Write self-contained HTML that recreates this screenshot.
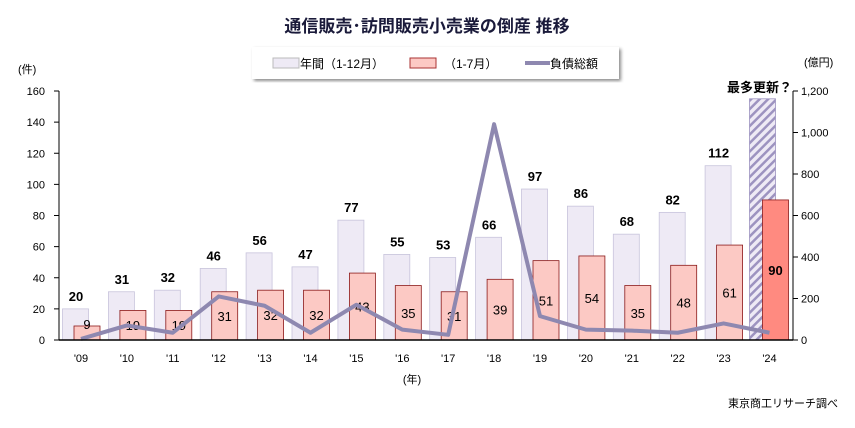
<!DOCTYPE html>
<html><head><meta charset="utf-8"><style>
body{margin:0;background:#fff;width:855px;height:423px;overflow:hidden}
text{font-family:"Liberation Sans","Noto Sans CJK JP",sans-serif}
</style></head><body>
<svg id="s" width="855" height="423" xmlns="http://www.w3.org/2000/svg">
<defs><pattern id="h" width="6" height="6" patternUnits="userSpaceOnUse" patternTransform="rotate(45)"><rect width="6" height="6" fill="#eeeaf5"/><rect width="2.5" height="6" fill="#9d93c0"/></pattern>
<filter id="sh"><feDropShadow dx="2" dy="2" stdDeviation="1.5" flood-opacity="0.45"/></filter></defs>
<text x="427" y="32" text-anchor="middle" font-size="17" font-weight="bold" fill="#1a1a3a">通信販売･訪問販売小売業の倒産 推移</text>
<rect x="252" y="47" width="367" height="32" fill="#fff" filter="url(#sh)"/>
<rect x="273" y="58" width="26" height="10" fill="#eeeaf5" stroke="#bbb"/><text x="300" y="68" font-size="12">年間（1-12月）</text>
<rect x="410" y="58" width="26" height="10" fill="#fcc9c4" stroke="#a33"/><text x="444" y="68" font-size="12">（1-7月）</text>
<line x1="525" y1="63" x2="550" y2="63" stroke="#8e88b0" stroke-width="4"/><text x="550" y="68" font-size="12">負債総額</text>
<text x="18" y="73" font-size="11">(件)</text><text x="804" y="66" font-size="11">(億円)</text>
<text x="727" y="92" font-size="13" font-weight="bold">最多更新？</text>
<text x="412" y="383" font-size="11" text-anchor="middle">(年)</text>
<text x="838" y="407" font-size="11" text-anchor="end">東京商工リサーチ調べ</text>
<g id="g"></g>
</svg>
<script>
var g=document.getElementById('g'),h='';
var A=[20,31,32,46,56,47,77,55,53,66,97,86,68,82,112,155];
var P=[9,19,19,31,32,32,43,35,31,39,51,54,35,48,61,90];
var L=[5,70,35,210,165,35,170,50,25,1040,115,50,45,35,80,35];
var y0=340,sc=249/160;function Y(v){return y0-v*sc}
for(var i=0;i<16;i++){var c=81+i*45.9;
var a=A[i],p=P[i];
if(i<15){h+='<rect x="'+(c-18.5)+'" y="'+Y(a)+'" width="26" height="'+(a*sc)+'" fill="#eeeaf5" stroke="#c8c4dc" stroke-width="0.8"/>';
h+='<text x="'+(c-5)+'" y="'+(Y(a)-8)+'" font-size="13" font-weight="bold" text-anchor="middle">'+a+'</text>';}
else h+='<rect x="'+(c-20)+'" y="'+Y(a)+'" width="26" height="'+(a*sc)+'" fill="url(#h)" stroke="#9d93c0" stroke-width="0.8"/>';
var f=i<15?'#fcc9c4':'#ff8a80';
h+='<rect x="'+(c-7)+'" y="'+Y(p)+'" width="26" height="'+(p*sc)+'" fill="'+f+'" stroke="#8b1a1a" stroke-width="0.8"/>';
var ty=i==0?329:(y0-p*sc/2+5);
h+='<text x="'+(c+6)+'" y="'+ty+'" font-size="13" '+(i==15?'font-weight="bold"':'')+' text-anchor="middle">'+p+'</text>';
h+='<text x="'+c+'" y="362" font-size="11" text-anchor="middle">\''+(i<1?'09':(9+i))+'</text>';}
var pts=L.map(function(v,i){return (81+i*45.9)+','+(y0-v/1200*249)}).join(' ');
h+='<polyline points="'+pts+'" fill="none" stroke="#8e88b0" stroke-width="4" stroke-linejoin="round"/>';
h+='<line x1="59" y1="91" x2="59" y2="340" stroke="#000"/><line x1="793" y1="91" x2="793" y2="340" stroke="#000"/><line x1="59" y1="340" x2="793" y2="340" stroke="#000" stroke-width="1.5"/>';
for(var k=0;k<=8;k++){var y=y0-k*20*sc;h+='<line x1="54" y1="'+y+'" x2="59" y2="'+y+'" stroke="#000"/><text x="45" y="'+(y+4)+'" font-size="11" text-anchor="end">'+(k*20)+'</text>';}
var R=['0','200','400','600','800','1,000','1,200'];
for(var k=0;k<=6;k++){var y=y0-k*249/6;h+='<line x1="793" y1="'+y+'" x2="798" y2="'+y+'" stroke="#000"/><text x="801" y="'+(y+4)+'" font-size="11">'+R[k]+'</text>';}
g.innerHTML=h;
</script>
</body></html>
